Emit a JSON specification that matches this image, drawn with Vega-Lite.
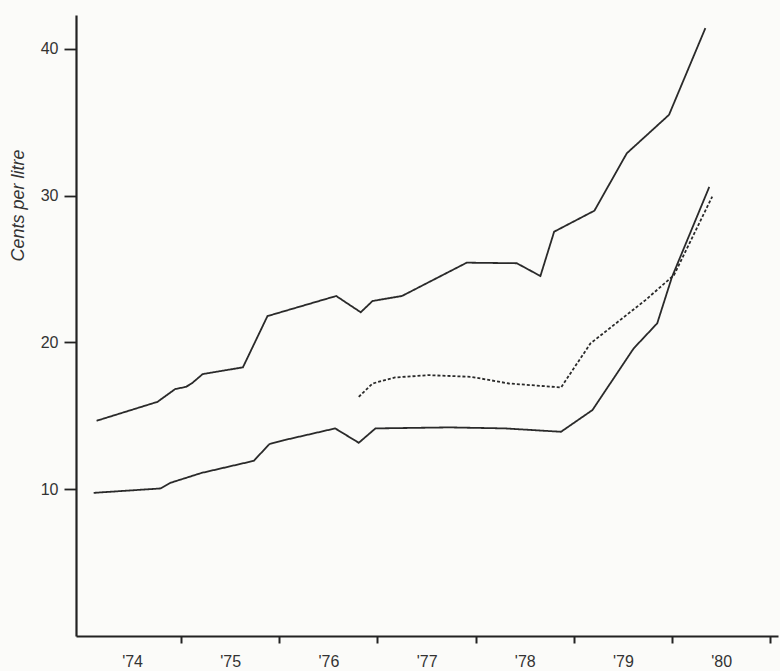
{
  "$schema": "https://vega.github.io/schema/vega-lite/v6.json",
  "width": 702,
  "height": 621,
  "autosize": "none",
  "padding": {"left": 76, "top": 15, "right": 2, "bottom": 35},
  "background": "#fbfbf9",
  "config": {"view": {"stroke": null}, "font": "Liberation Sans"},
  "data": {
    "values": [
      {"series": "top", "year": 1974.14, "cents": 14.66},
      {"series": "top", "year": 1974.76, "cents": 15.95},
      {"series": "top", "year": 1974.94, "cents": 16.82},
      {"series": "top", "year": 1975.05, "cents": 16.97},
      {"series": "top", "year": 1975.11, "cents": 17.21},
      {"series": "top", "year": 1975.22, "cents": 17.84},
      {"series": "top", "year": 1975.63, "cents": 18.3},
      {"series": "top", "year": 1975.88, "cents": 21.79},
      {"series": "top", "year": 1976.58, "cents": 23.16},
      {"series": "top", "year": 1976.83, "cents": 22.05},
      {"series": "top", "year": 1976.95, "cents": 22.82},
      {"series": "top", "year": 1977.25, "cents": 23.16},
      {"series": "top", "year": 1977.91, "cents": 25.43},
      {"series": "top", "year": 1978.42, "cents": 25.39},
      {"series": "top", "year": 1978.66, "cents": 24.52},
      {"series": "top", "year": 1978.8, "cents": 27.54},
      {"series": "top", "year": 1979.21, "cents": 28.97},
      {"series": "top", "year": 1979.54, "cents": 32.88},
      {"series": "top", "year": 1979.97, "cents": 35.5},
      {"series": "top", "year": 1980.34, "cents": 41.4},
      {"series": "middle", "year": 1976.81, "cents": 16.29},
      {"series": "middle", "year": 1976.95, "cents": 17.2},
      {"series": "middle", "year": 1977.18, "cents": 17.61},
      {"series": "middle", "year": 1977.52, "cents": 17.77},
      {"series": "middle", "year": 1977.96, "cents": 17.65},
      {"series": "middle", "year": 1978.34, "cents": 17.2},
      {"series": "middle", "year": 1978.87, "cents": 16.93},
      {"series": "middle", "year": 1979.17, "cents": 19.93},
      {"series": "middle", "year": 1979.73, "cents": 22.88},
      {"series": "middle", "year": 1980.02, "cents": 24.58},
      {"series": "middle", "year": 1980.41, "cents": 29.93},
      {"series": "bottom", "year": 1974.11, "cents": 9.75},
      {"series": "bottom", "year": 1974.79, "cents": 10.05},
      {"series": "bottom", "year": 1974.89, "cents": 10.43},
      {"series": "bottom", "year": 1975.21, "cents": 11.11},
      {"series": "bottom", "year": 1975.74, "cents": 11.93},
      {"series": "bottom", "year": 1975.9, "cents": 13.07},
      {"series": "bottom", "year": 1976.05, "cents": 13.34},
      {"series": "bottom", "year": 1976.57, "cents": 14.14},
      {"series": "bottom", "year": 1976.81, "cents": 13.16},
      {"series": "bottom", "year": 1976.98, "cents": 14.14},
      {"series": "bottom", "year": 1977.73, "cents": 14.21},
      {"series": "bottom", "year": 1978.3, "cents": 14.14},
      {"series": "bottom", "year": 1978.87, "cents": 13.91},
      {"series": "bottom", "year": 1979.19, "cents": 15.39},
      {"series": "bottom", "year": 1979.61, "cents": 19.59},
      {"series": "bottom", "year": 1979.85, "cents": 21.3},
      {"series": "bottom", "year": 1980.0, "cents": 24.45},
      {"series": "bottom", "year": 1980.38, "cents": 30.59}
    ]
  },
  "mark": {"type": "line", "strokeWidth": 1.8, "strokeJoin": "miter"},
  "encoding": {
    "x": {
      "field": "year",
      "type": "quantitative",
      "scale": {"domain": [1973.93, 1981.08], "nice": false, "zero": false},
      "axis": {
        "title": null,
        "grid": false,
        "values": [1975, 1976, 1977, 1978, 1979, 1980, 1981],
        "labelExpr": "\"'\" + slice(toString(datum.value - 1), 2)",
        "labelOffset": -49,
        "labelFontSize": 16,
        "labelColor": "#333",
        "labelPadding": 10,
        "tickSize": 7,
        "tickWidth": 2,
        "tickColor": "#222",
        "domainColor": "#222",
        "domainWidth": 2.2
      }
    },
    "y": {
      "field": "cents",
      "type": "quantitative",
      "scale": {"domain": [0, 42.3], "nice": false},
      "axis": {
        "title": "Cents per litre",
        "titleFontStyle": "italic",
        "titleFontWeight": "normal",
        "titleFontSize": 18,
        "titleColor": "#333",
        "titleAngle": -90,
        "titleX": -58,
        "titleY": 190,
        "titleAlign": "center",
        "titleBaseline": "middle",
        "grid": false,
        "values": [10, 20, 30, 40],
        "labelFontSize": 16,
        "labelColor": "#333",
        "labelPadding": 6,
        "tickSize": 12,
        "tickWidth": 1.8,
        "tickColor": "#222",
        "domainColor": "#222",
        "domainWidth": 2.2
      }
    },
    "color": {
      "field": "series",
      "type": "nominal",
      "scale": {"domain": ["top", "middle", "bottom"], "range": ["#2a2a2a", "#2a2a2a", "#2a2a2a"]},
      "legend": null
    },
    "strokeDash": {
      "field": "series",
      "type": "nominal",
      "scale": {"domain": ["top", "middle", "bottom"], "range": [[1, 0], [3, 2], [1, 0]]},
      "legend": null
    }
  }
}
